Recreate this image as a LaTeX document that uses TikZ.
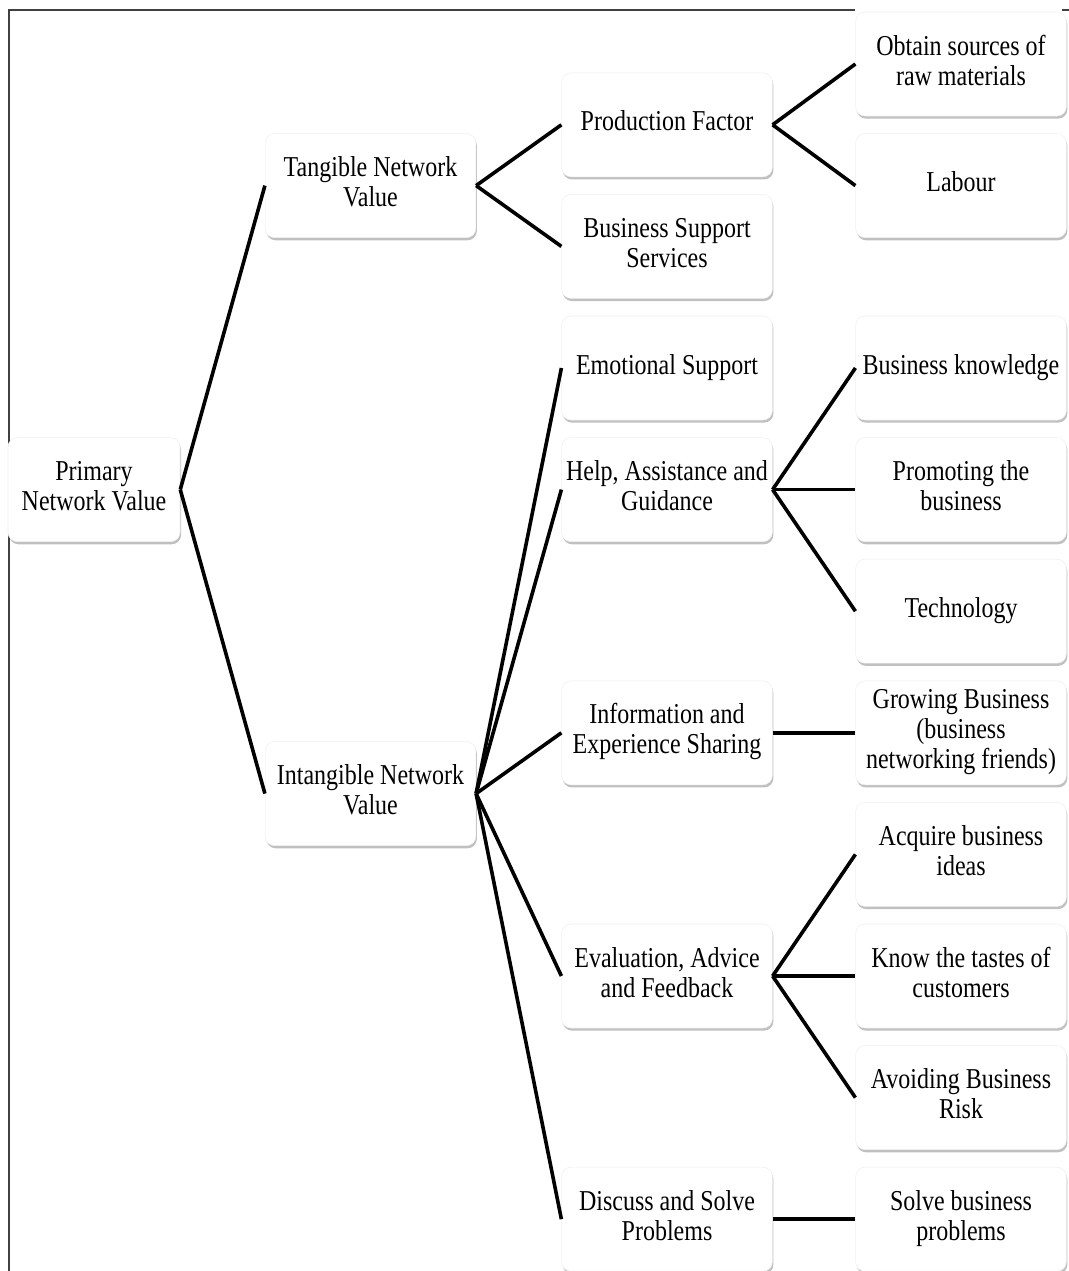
\documentclass[tikz,border=0pt]{standalone}
\usepackage{fontspec}
\setmainfont{Liberation Serif}
\usepackage{graphicx}
\usetikzlibrary{shadows}
\newcommand{\boxtext}[1]{\scalebox{1}[1.2]{\begin{tabular}{@{}c@{}}#1\end{tabular}}}
\begin{document}
\begin{tikzpicture}[x=0.75pt,y=-0.75pt,
  box/.style={draw=black!6, line width=0.4pt, fill=white, rounded corners=7pt,
    minimum width=158pt, minimum height=78pt, inner sep=0pt, align=center,
    font=\fontsize{18}{18.75}\selectfont,
    drop shadow={shadow xshift=0.8pt, shadow yshift=-2pt, opacity=0.35, fill=black!70}},
  link/.style={line width=2.7pt, black},
  framel/.style={line width=1.8pt, black!75}]
\useasboundingbox (0,0) rectangle (1069,1271);
\fill[white] (0,0) rectangle (1069,1271);
% frame
\draw[framel] (9,1271) -- (9,10) -- (855,10);
\draw[framel] (1062,10) -- (1069,10);
% column 0/1
\node[box, minimum width=129pt] (prim) at (94,489.6) {\boxtext{Primary\\Network Value}};
\node[box] (tang) at (370.5,185.6) {\boxtext{Tangible Network\\Value}};
\node[box] (intang) at (370.5,793.6) {\boxtext{Intangible Network\\Value}};
% column 2
\node[box] (prod) at (667,124.8) {\boxtext{Production Factor}};
\node[box] (bss) at (667,246.4) {\boxtext{Business Support\\Services}};
\node[box] (emo) at (667,368) {\boxtext{Emotional Support}};
\node[box] (help) at (667,489.6) {\boxtext{Help, Assistance and\\Guidance}};
\node[box] (info) at (667,732.8) {\boxtext{Information and\\Experience Sharing}};
\node[box] (eval) at (667,976) {\boxtext{Evaluation, Advice\\and Feedback}};
\node[box] (disc) at (667,1219.2) {\boxtext{Discuss and Solve\\Problems}};
% column 3
\node[box] (obt) at (961,64) {\boxtext{Obtain sources of\\raw materials}};
\node[box] (lab) at (961,185.6) {\boxtext{Labour}};
\node[box] (bk) at (961,368) {\boxtext{Business knowledge}};
\node[box] (prom) at (961,489.6) {\boxtext{Promoting the\\business}};
\node[box] (tech) at (961,611.2) {\boxtext{Technology}};
\node[box] (grow) at (961,732.8) {\boxtext{Growing Business\\(business\\networking friends)}};
\node[box] (acq) at (961,854.4) {\boxtext{Acquire business\\ideas}};
\node[box] (know) at (961,976) {\boxtext{Know the tastes of\\customers}};
\node[box] (avoid) at (961,1097.6) {\boxtext{Avoiding Business\\Risk}};
\node[box] (solve) at (961,1219.2) {\boxtext{Solve business\\problems}};
% connectors
\draw[link] (prim.east) -- (tang.west);
\draw[link] (prim.east) -- (intang.west);
\draw[link] (tang.east) -- (prod.west);
\draw[link] (tang.east) -- (bss.west);
\draw[link] (prod.east) -- (obt.west);
\draw[link] (prod.east) -- (lab.west);
\draw[link] (intang.east) -- (emo.west);
\draw[link] (intang.east) -- (help.west);
\draw[link] (intang.east) -- (info.west);
\draw[link] (intang.east) -- (eval.west);
\draw[link] (intang.east) -- (disc.west);
\draw[link] (help.east) -- (bk.west);
\draw[link] (help.east) -- (prom.west);
\draw[link] (help.east) -- (tech.west);
\draw[link] (info.east) -- (grow.west);
\draw[link] (eval.east) -- (acq.west);
\draw[link] (eval.east) -- (know.west);
\draw[link] (eval.east) -- (avoid.west);
\draw[link] (disc.east) -- (solve.west);
\end{tikzpicture}
\end{document}
